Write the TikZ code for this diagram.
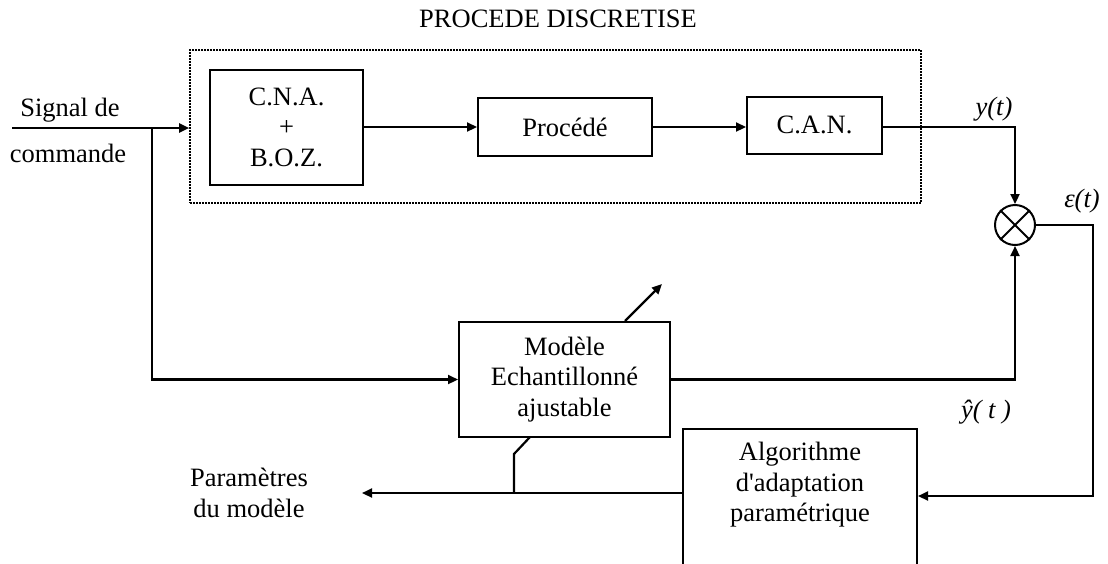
\documentclass[tikz,border=0pt]{standalone}
\usepackage{fontspec}
\setmainfont{Liberation Serif}
\usetikzlibrary{arrows.meta}
\begin{document}
\begin{tikzpicture}[x=1pt,y=-1pt,
  txt/.style={font=\fontsize{26.5}{30.5}\selectfont, align=center, inner sep=0pt},
  blk/.style={draw, line width=2pt, txt, minimum width=#1},
  ln/.style={line width=2.2pt},
  arr/.style={line width=2.2pt, -{Triangle[length=10pt,width=9pt]}},
  dotbox/.style={draw, line width=1.6pt, dash pattern=on 1.6pt off 1.4pt}]
\useasboundingbox (0,0) rectangle (1108,563);
\clip (0,0) rectangle (1108,563);

% title and dotted frame
\node[txt, anchor=base] (title) at (558,27) {PROCEDE DISCRETISE};
\node[dotbox, minimum width=731pt, minimum height=153pt] (dot) at (555.5,126.5) {};

% blocks
\node[blk=153pt, minimum height=115pt] (cna) at (286.5,127) {C.N.A.\\+\\B.O.Z.};
\node[blk=174pt, minimum height=58pt] (proc) at (565,127) {Procédé};
\node[blk=135pt, minimum height=57pt] (can) at (814.5,125) {C.A.N.};
\node[blk=211pt, minimum height=115pt] (model) at (564.5,379.5) {Modèle\\Echantillonné\\ajustable};
\node[draw, line width=2pt, minimum width=234pt, minimum height=200pt, anchor=north] (algo) at (800,428) {};
\node[txt] (algotxt) at (800,485) {Algorithme\\d\textquotesingle adaptation\\paramétrique};
\node[draw, line width=2pt, circle, minimum size=40pt, inner sep=0pt] (sum) at (1015,225) {};
\draw[line width=2pt] (sum.north west) -- (sum.south east) (sum.north east) -- (sum.south west);

% labels
\node[txt, anchor=base] (sig1) at (70,116) {Signal de};
\node[txt, anchor=base] (sig2) at (68,162) {commande};
\node[txt, anchor=base] (par1) at (249,486) {Paramètres};
\node[txt, anchor=base] (par2) at (249,517) {du modèle};
\node[txt, anchor=base] (ylab) at (994,115) {\itshape y(t)};
\node[txt, anchor=base] (elab) at (1082,207) {\itshape ε(t)};
\node[txt, anchor=base] (yhlab) at (986,418) {\itshape ŷ( t )};

% coordinates
\coordinate (in) at (12,128);
\coordinate (br) at (152,128);
\coordinate (fb) at (1093,496);
\coordinate (pout) at (362,493);
\coordinate (stubtop) at (530,437);
\coordinate (stubbend) at (514,454);

% connectors
\draw[arr] (in) -- (in -| dot.west);
\draw[arr] (br) |- (model.west);
\draw[arr] (cna.east |- proc.east) -- (proc.west);
\draw[arr] (proc.east) -- (can.west |- proc.east);
\draw[arr] (can.east |- proc.east) -| (sum.north);
\draw[arr] (model.east) -| (sum.south);
\draw[arr] (sum.east) -| (fb) -- (algo.east |- fb);
\draw[arr] (algo.west |- pout) -- (pout);
\draw[ln] (stubtop) -- (stubbend) -- (stubbend |- pout);
\draw[arr] ([xshift=60.5pt]model.north) -- ++(37,-37);
\end{tikzpicture}
\end{document}
